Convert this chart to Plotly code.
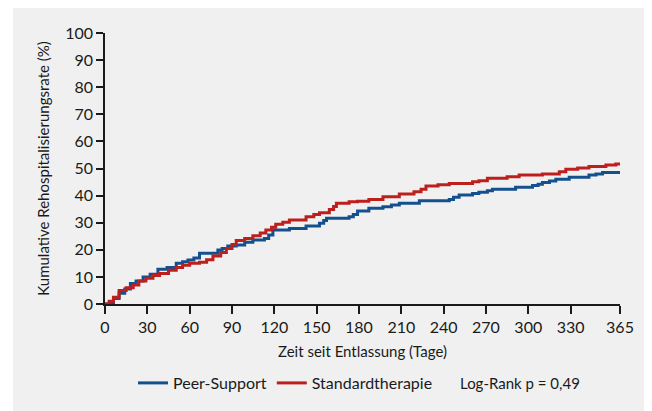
import plotly.graph_objects as go

# Peer-Support (blue) step curve: day, cumulative %
peer_days = [0, 3, 6, 10, 14, 18, 22, 27, 32, 37.5, 44, 50.5, 55, 58.8, 63, 67, 80, 83, 87, 93, 99,
             104.8, 113, 116, 119, 130.7, 142.5, 152, 155, 157, 173, 176, 179, 187, 197, 203, 208.6,
             222.8, 244, 247, 251, 260.5, 265, 271, 274.6, 291, 303, 307, 310, 315, 319.5, 329, 343,
             348, 352.6, 365]
peer_vals = [0, 0.5, 2, 4, 5.5, 7.6, 8.5, 10, 11, 12.8, 13.5, 15, 15.6, 16.2, 17, 18.7, 19.9, 20.5, 21.4,
             21.8, 22.8, 23.6, 24.2, 25.5, 27.3, 27.9, 28.8, 29.8, 30.8, 31.6, 32.2, 33, 34.3, 35.3, 35.9,
             36.5, 37.2, 38.1, 38.6, 39.4, 40.2, 40.8, 41.2, 41.8, 42.3, 43.1, 43.7, 44.2, 44.8, 45.4, 46,
             46.8, 47.6, 48, 48.5, 48.7]

# Standardtherapie (red) step curve
std_days = [0, 3, 6, 10, 15, 20, 24, 29, 34, 38.7, 45, 50.5, 55, 60, 67, 72, 76.5, 82, 86, 90, 93, 99,
            104.8, 110, 114, 118, 121, 126, 130.7, 142.5, 148, 152, 159, 162, 164, 173, 179, 187, 197,
            208.6, 219, 224, 227.5, 236, 244, 260.5, 265, 271, 285, 293.5, 310, 322, 326.6, 335, 343,
            355, 362, 365]
std_vals = [0, 1, 2.5, 5, 6, 7, 8.5, 9.5, 10.5, 11.3, 12.5, 13.5, 14.3, 15, 15.4, 16.3, 17.7, 19, 20.5,
            22, 23.4, 24.2, 25.2, 26.2, 27.3, 28.3, 29.4, 30.2, 31, 32.2, 33, 33.7, 34.9, 36, 37.2, 37.7,
            37.9, 38.6, 39.6, 40.6, 41.4, 42.3, 43.5, 44, 44.5, 45.1, 45.5, 46.4, 47, 47.6, 48, 48.8, 49.7,
            50.2, 50.7, 51.3, 51.7, 51.7]

x_ticks = [0, 30, 60, 90, 120, 150, 180, 210, 240, 270, 300, 330, 365]
y_ticks = [0, 10, 20, 30, 40, 50, 60, 70, 80, 90, 100]

BLUE = "#15508e"
RED = "#bd1f1c"
BG = "#f0f0f0"
TXT = "#1a1a1a"
FONT = "Lato"

fig = go.Figure()
fig.add_trace(go.Scatter(x=peer_days, y=peer_vals, mode="lines", line=dict(color=BLUE, width=3, shape="hv"),
                         name="Peer-Support"))
fig.add_trace(go.Scatter(x=std_days, y=std_vals, mode="lines", line=dict(color=RED, width=3, shape="hv"),
                         name="Standardtherapie"))

OFF = 8  # page body margin
W, H = 652 - OFF, 411 - OFF
# target plot area in screen pixels: x 105..620, y 33..304
L, R, T, B = 105 - OFF, 652 - 620, 33 - OFF, 411 - 304
pw, ph = W - L - R, H - T - B

def px_x(p):
    return (p - OFF - L) / pw

def px_y(p):
    return (H - B - (p - OFF)) / ph

fig.add_shape(type="rect", xref="paper", yref="paper", x0=px_x(13), x1=px_x(700), y0=px_y(-20), y1=px_y(450),
              fillcolor=BG, line=dict(width=0), layer="below")

fig.add_annotation(text="Log-Rank p = 0,49", xref="paper", yref="paper", x=px_x(458), y=px_y(383),
                   xanchor="left", yanchor="middle", showarrow=False, font=dict(family=FONT, size=15, color=TXT))

fig.update_layout(
    width=W, height=H,
    margin=dict(l=L, r=R, t=T, b=B, pad=0, autoexpand=False),
    paper_bgcolor="white", plot_bgcolor=BG,
    font=dict(family=FONT, size=16, color=TXT),
    showlegend=True,
    legend=dict(orientation="h", xref="container", yref="container", x=(133 - OFF) / W,
                y=1 - (383 - OFF) / H, xanchor="left", yanchor="middle",
                bgcolor="rgba(0,0,0,0)", font=dict(family=FONT, size=16, color=TXT), itemwidth=30),
    xaxis=dict(range=[0, 365], tickvals=x_ticks, ticktext=[str(v) for v in x_ticks], showgrid=False,
               zeroline=False, showline=True, linecolor=TXT, linewidth=1.5, ticks="outside", ticklen=8,
               tickwidth=1.5, tickcolor=TXT, automargin=False,
               title=dict(text="Zeit seit Entlassung (Tage)", standoff=12, font=dict(size=15))),
    yaxis=dict(range=[0, 100], tickvals=y_ticks, showgrid=False, zeroline=False, showline=True,
               linecolor=TXT, linewidth=1.5, ticks="outside", ticklen=7, tickwidth=1.5, tickcolor=TXT,
               automargin=False,
               title=dict(text="Kumulative Rehospitalisierungsrate (%)", standoff=12, font=dict(size=15))),
)

fig.write_html("out.html")
